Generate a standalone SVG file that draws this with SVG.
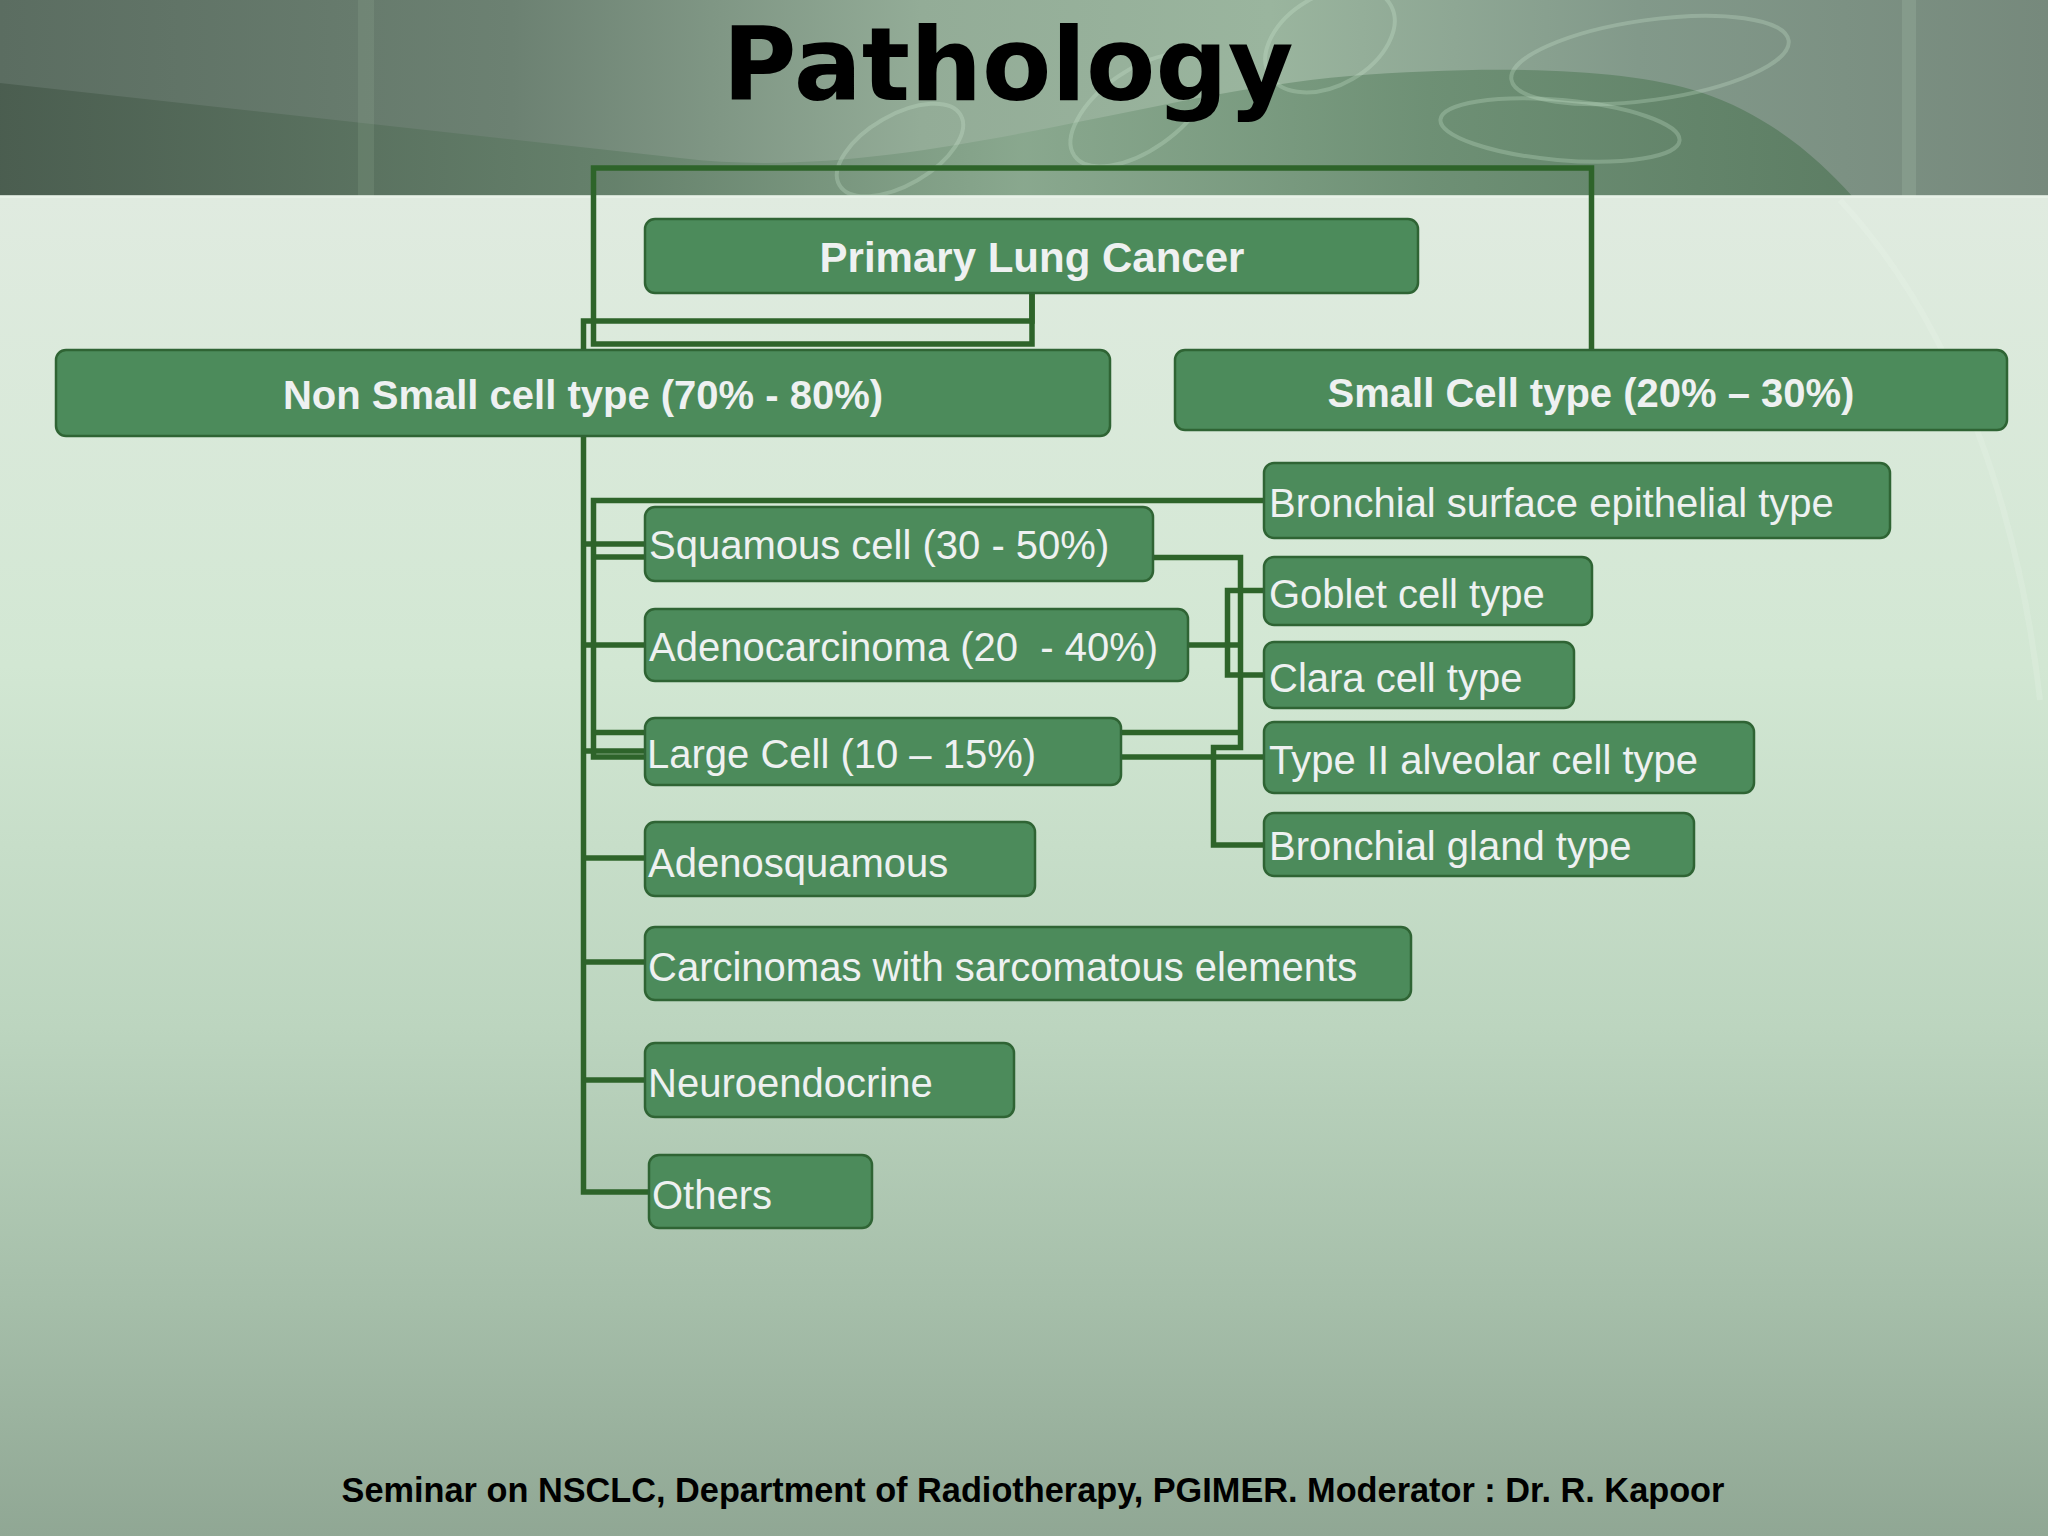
<svg xmlns="http://www.w3.org/2000/svg" width="2048" height="1536" viewBox="0 0 2048 1536">
<defs>
<linearGradient id="bodyGrad" x1="0" y1="196" x2="0" y2="1536" gradientUnits="userSpaceOnUse">
<stop offset="0" stop-color="#e0ebe0"/>
<stop offset="0.35" stop-color="#d2e7d3"/>
<stop offset="0.62" stop-color="#bcd5bf"/>
<stop offset="0.82" stop-color="#a6bfaa"/>
<stop offset="1" stop-color="#90a794"/>
</linearGradient>
<linearGradient id="headGrad" x1="0" y1="0" x2="2048" y2="0" gradientUnits="userSpaceOnUse">
<stop offset="0" stop-color="#5b6d61"/>
<stop offset="0.25" stop-color="#6c8172"/>
<stop offset="0.45" stop-color="#93ac97"/>
<stop offset="0.62" stop-color="#9ab59e"/>
<stop offset="0.8" stop-color="#82998a"/>
<stop offset="1" stop-color="#76897c"/>
</linearGradient>
<linearGradient id="waveGrad" x1="0" y1="0" x2="2048" y2="0" gradientUnits="userSpaceOnUse">
<stop offset="0" stop-color="#495c4e"/>
<stop offset="0.3" stop-color="#64806a"/>
<stop offset="0.5" stop-color="#88a78d"/>
<stop offset="0.7" stop-color="#6a8d71"/>
<stop offset="0.9" stop-color="#5a7c61"/>
</linearGradient>
<style>
.conn{fill:none;stroke:#2e642a;stroke-width:5.5;stroke-linejoin:miter}
.box{fill:#4c8b5b;stroke:#2f6434;stroke-width:2.5}
.hd{font-family:"Liberation Sans",Arial,sans-serif;font-weight:bold;font-size:40px;fill:#eef1f1;text-anchor:middle}
.lb{font-family:"Liberation Sans",Arial,sans-serif;font-size:40px;fill:#eef1f1}
.swirl{fill:none;stroke:#d4f0d6;stroke-width:4;opacity:0.25}
</style>
</defs>

<g id="background">
<rect x="0" y="0" width="2048" height="1536" fill="url(#bodyGrad)"/>
<rect x="0" y="0" width="2048" height="196" fill="url(#headGrad)"/>
<path d="M0,83 L680,158 C900,185 1150,92 1350,76 C1480,66 1620,66 1700,92 C1770,115 1820,160 1852,196 L0,196 Z" fill="url(#waveGrad)" opacity="0.9"/>
<ellipse class="swirl" cx="1330" cy="40" rx="70" ry="45" transform="rotate(-30 1330 40)"/>
<ellipse class="swirl" cx="1140" cy="110" rx="80" ry="40" transform="rotate(-35 1140 110)"/>
<ellipse class="swirl" cx="900" cy="150" rx="70" ry="35" transform="rotate(-30 900 150)"/>
<ellipse class="swirl" cx="1650" cy="60" rx="140" ry="40" transform="rotate(-8 1650 60)"/>
<ellipse class="swirl" cx="1560" cy="130" rx="120" ry="30" transform="rotate(5 1560 130)"/>
<rect x="358" y="0" width="16" height="196" fill="#a8c4aa" opacity="0.15"/>
<rect x="1902" y="0" width="14" height="196" fill="#b8d4ba" opacity="0.18"/>
<rect x="0" y="195" width="2048" height="3" fill="#e8f2e8" opacity="0.8"/>
<path d="M1840,200 C1960,330 2020,520 2040,700" fill="none" stroke="#f0f8f0" stroke-width="6" opacity="0.2"/>
</g>

<text id="title" x="1008" y="100" font-family="'DejaVu Sans',Verdana,sans-serif" font-weight="bold" font-size="101" fill="#000" text-anchor="middle">Pathology</text>

<g id="connectors">
<path class="conn" d="M1032,293 V344 H593.5 V168 H1591.5 V350"/>
<path class="conn" d="M1032,293 V321 H583.5 V350"/>
<path class="conn" d="M583.5,436 V1192 H649"/>
<path class="conn" d="M583.5,544 H645"/>
<path class="conn" d="M583.5,645 H645"/>
<path class="conn" d="M583.5,751 H645"/>
<path class="conn" d="M583.5,858 H645"/>
<path class="conn" d="M583.5,962 H645"/>
<path class="conn" d="M583.5,1080 H645"/>
<path class="conn" d="M1264,500.5 H593.5 V757 H645"/>
<path class="conn" d="M593.5,557 H645"/>
<path class="conn" d="M593.5,732.5 H645"/>
<path class="conn" d="M1153,557.5 H1240.5 V747.5 H1213.5 V845 H1264"/>
<path class="conn" d="M1188,645 H1240"/>
<path class="conn" d="M1264,590.5 H1227.5 V675 H1264"/>
<path class="conn" d="M1121,732.5 H1240"/>
<path class="conn" d="M1121,757 H1264"/>
</g>

<g id="node-primary">
<rect class="box" x="645" y="219" width="773" height="74" rx="10"/>
<text class="hd" x="1032" y="272" style="font-size:42px">Primary Lung Cancer</text>
</g>
<g id="node-nonsmall">
<rect class="box" x="56" y="350" width="1054" height="86" rx="10"/>
<text class="hd" x="583" y="409">Non Small cell type (70% - 80%)</text>
</g>
<g id="node-small">
<rect class="box" x="1175" y="350" width="832" height="80" rx="10"/>
<text class="hd" x="1591" y="407">Small Cell type (20% – 30%)</text>
</g>

<g id="node-squamous">
<rect class="box" x="645" y="507" width="508" height="74" rx="10"/>
<text class="lb" x="649" y="559">Squamous cell (30 - 50%)</text>
</g>
<g id="node-adeno">
<rect class="box" x="645" y="609" width="543" height="72" rx="10"/>
<text class="lb" x="649" y="661" xml:space="preserve">Adenocarcinoma (20  - 40%)</text>
</g>
<g id="node-large">
<rect class="box" x="645" y="718" width="476" height="67" rx="10"/>
<text class="lb" x="647" y="768">Large Cell (10 – 15%)</text>
</g>
<g id="node-adenosquamous">
<rect class="box" x="645" y="822" width="390" height="74" rx="10"/>
<text class="lb" x="648" y="877">Adenosquamous</text>
</g>
<g id="node-carcinomas">
<rect class="box" x="645" y="927" width="766" height="73" rx="10"/>
<text class="lb" x="648" y="981">Carcinomas with sarcomatous elements</text>
</g>
<g id="node-neuro">
<rect class="box" x="645" y="1043" width="369" height="74" rx="10"/>
<text class="lb" x="648" y="1097">Neuroendocrine</text>
</g>
<g id="node-others">
<rect class="box" x="649" y="1155" width="223" height="73" rx="10"/>
<text class="lb" x="652" y="1209">Others</text>
</g>

<g id="node-bronchial-surface">
<rect class="box" x="1264" y="463" width="626" height="75" rx="10"/>
<text class="lb" x="1269" y="517">Bronchial surface epithelial type</text>
</g>
<g id="node-goblet">
<rect class="box" x="1264" y="557" width="328" height="68" rx="10"/>
<text class="lb" x="1269" y="608">Goblet cell type</text>
</g>
<g id="node-clara">
<rect class="box" x="1264" y="642" width="310" height="66" rx="10"/>
<text class="lb" x="1269" y="692">Clara cell type</text>
</g>
<g id="node-type2">
<rect class="box" x="1264" y="722" width="490" height="71" rx="10"/>
<text class="lb" x="1269" y="774">Type II alveolar cell type</text>
</g>
<g id="node-bronchial-gland">
<rect class="box" x="1264" y="813" width="430" height="63" rx="10"/>
<text class="lb" x="1269" y="860">Bronchial gland type</text>
</g>

<text id="footer" x="1033" y="1502" font-family="'Liberation Sans',Arial,sans-serif" font-weight="bold" font-size="34.3" fill="#000" text-anchor="middle">Seminar on NSCLC, Department of Radiotherapy, PGIMER. Moderator : Dr. R. Kapoor</text>
</svg>
